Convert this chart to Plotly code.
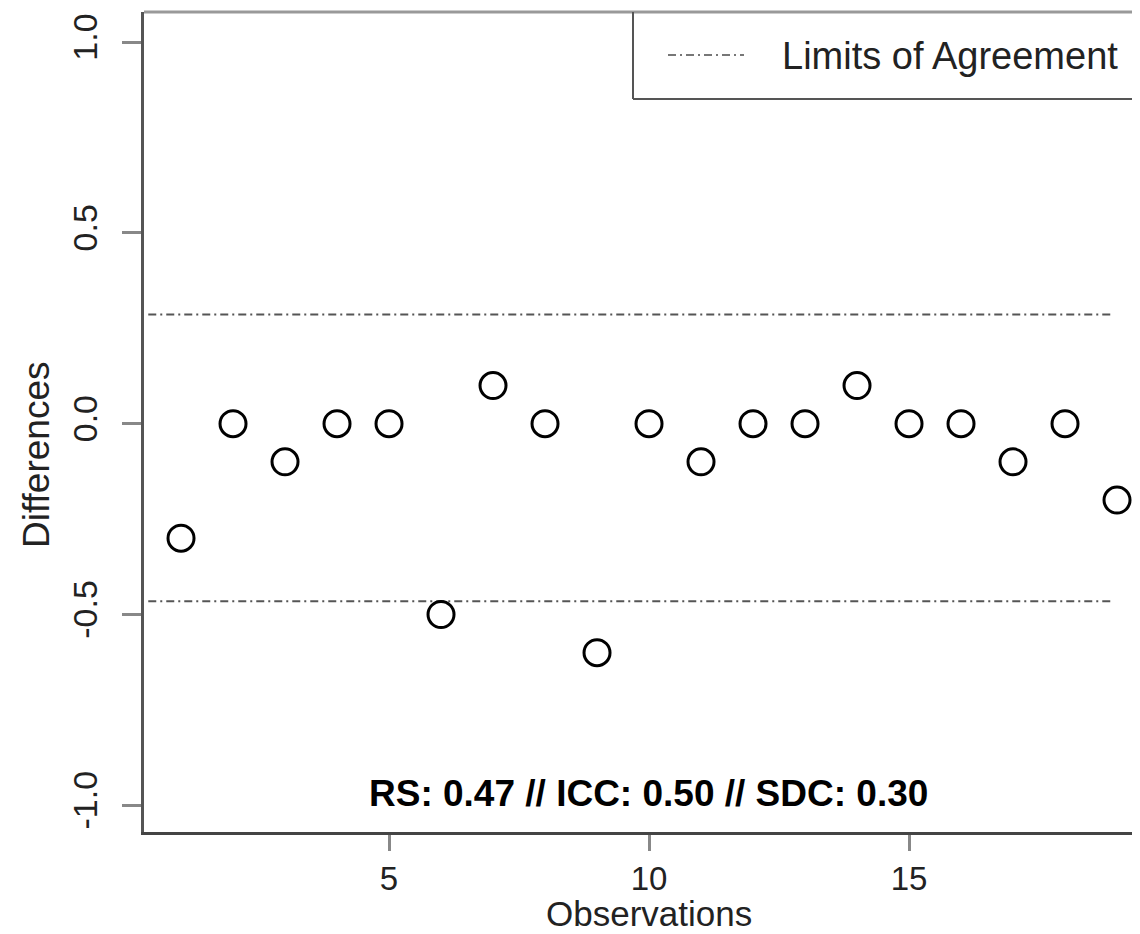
import plotly.graph_objects as go

# ---- data ----
observations = list(range(1, 20))
differences = [-0.3, 0.0, -0.1, 0.0, 0.0, -0.5, 0.1, 0.0, -0.6, 0.0,
               -0.1, 0.0, 0.0, 0.1, 0.0, 0.0, -0.1, 0.0, -0.2]
loa_values = [0.286, -0.465]          # upper / lower limits of agreement
loa_x_span = [0.37, 18.92]
x_tickvals = [5, 10, 15]
x_ticktext = ["5", "10", "15"]
y_tickvals = [-1.0, -0.5, 0.0, 0.5, 1.0]
y_ticktext = ["-1.0", "-0.5", "0.0", "0.5", "1.0"]
stats_text = "RS: 0.47 // ICC: 0.50 // SDC: 0.30"
legend_label = "Limits of Agreement"

# page body has an 8px margin -> compensate so plot lands at window pixels
OFF = 8
WIN_W, WIN_H = 1140, 934
W, H = WIN_W - OFF, WIN_H - OFF
L, R, T, B = 144 - OFF, 0, 12 - OFF, 102
FONT = "Liberation Sans, Arial, Helvetica, sans-serif"
DASH = "8px,4px,2px,4px"

PLOT_L, PLOT_R = 144, WIN_W
PLOT_T, PLOT_B = 12, 832

def px_x(p):
    return (p - PLOT_L) / (PLOT_R - PLOT_L)

def px_y(p):
    return (PLOT_B - p) / (PLOT_B - PLOT_T)

fig = go.Figure()

for v in loa_values:
    fig.add_trace(go.Scatter(
        x=loa_x_span, y=[v, v], mode="lines",
        line=dict(color="#555555", width=2, dash=DASH),
        hoverinfo="skip", showlegend=False))

fig.add_trace(go.Scatter(
    x=observations, y=differences, mode="markers",
    marker=dict(symbol="circle-open", size=26, color="black",
                line=dict(color="black", width=3)),
    showlegend=False))

fig.update_layout(
    width=W, height=H,
    margin=dict(l=L, r=R, t=T, b=B, pad=0),
    paper_bgcolor="white", plot_bgcolor="white",
    font=dict(family=FONT, color="#222222", size=35),
    showlegend=False,
    xaxis=dict(range=[0.288, 19.442], tickvals=x_tickvals, ticktext=x_ticktext,
               showgrid=False, zeroline=False, showline=True,
               linecolor="#444444", linewidth=2.5,
               ticks="outside", ticklen=16, tickwidth=2.5, tickcolor="#888888",
               tickfont=dict(size=33, family=FONT, color="#222222"),
               ticklabelstandoff=0, automargin=False),
    yaxis=dict(range=[-1.07, 1.079], tickvals=y_tickvals, ticktext=y_ticktext,
               showgrid=False, zeroline=False, showline=True,
               linecolor="#555555", linewidth=2.5,
               ticks="outside", ticklen=19, tickwidth=2.5, tickcolor="#888888",
               tickangle=-90,
               tickfont=dict(size=34, family=FONT, color="#222222"),
               ticklabelstandoff=12, automargin=False),
)

# top border of plot box (lighter)
fig.add_shape(type="line", xref="paper", yref="paper", x0=0, x1=1, y0=1, y1=1,
              line=dict(color="#999999", width=3))

# legend box (cropped at right edge)
lx0 = px_x(633)
ly0 = px_y(99)
fig.add_shape(type="line", xref="paper", yref="paper", x0=lx0, x1=lx0, y0=ly0, y1=1,
              line=dict(color="#555555", width=2))
fig.add_shape(type="line", xref="paper", yref="paper", x0=lx0, x1=1.01, y0=ly0, y1=ly0,
              line=dict(color="#555555", width=2))
fig.add_shape(type="line", xref="paper", yref="paper",
              x0=px_x(668), x1=px_x(744), y0=px_y(55), y1=px_y(55),
              line=dict(color="#777777", width=2, dash=DASH))
fig.add_annotation(xref="paper", yref="paper", x=px_x(780), y=px_y(56),
                   xanchor="left", yanchor="middle", showarrow=False,
                   text=legend_label, font=dict(size=38, family=FONT, color="#222222"))

# statistics text
fig.add_annotation(xref="paper", yref="paper", x=px_x(648), y=px_y(793),
                   xanchor="center", yanchor="middle", showarrow=False,
                   text="<b>" + stats_text + "</b>",
                   font=dict(size=37, family=FONT, color="black"))

# axis titles
fig.add_annotation(xref="paper", yref="paper", x=px_x(649), y=px_y(913),
                   xanchor="center", yanchor="middle", showarrow=False,
                   text="Observations", font=dict(size=35, family=FONT, color="#222222"))
fig.add_annotation(xref="paper", yref="paper", x=px_x(36), y=px_y(455),
                   xanchor="center", yanchor="middle", showarrow=False, textangle=-90,
                   text="Differences", font=dict(size=37, family=FONT, color="#222222"))

fig.write_html("out.html")
